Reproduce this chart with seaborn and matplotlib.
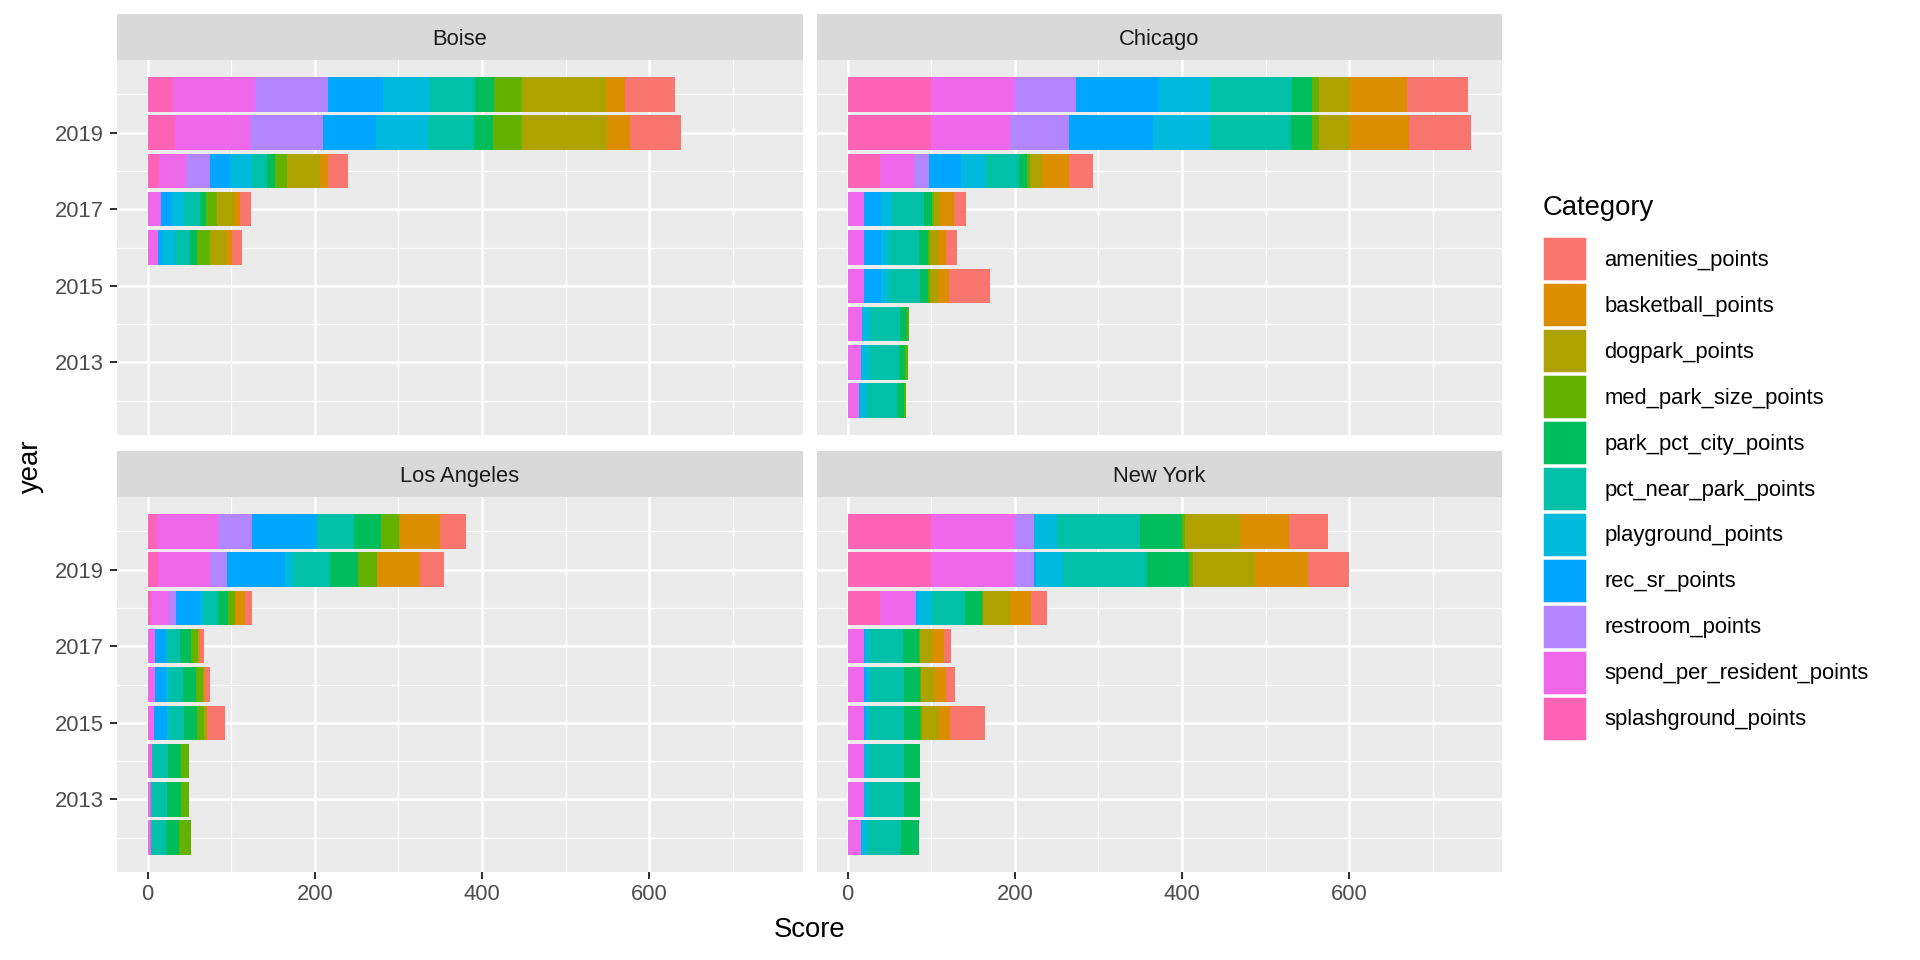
import numpy as np
import pandas as pd
import matplotlib
matplotlib.use("Agg")
import matplotlib.pyplot as plt
import seaborn as sns
from matplotlib.patches import Patch
from matplotlib.ticker import FixedLocator

categories = ["amenities_points", "basketball_points", "dogpark_points",
              "med_park_size_points", "park_pct_city_points", "pct_near_park_points",
              "playground_points", "rec_sr_points", "restroom_points",
              "spend_per_resident_points", "splashground_points"]
palette = ["#F8766D", "#DB8E00", "#AEA200", "#64B200", "#00BD5C", "#00C1A7",
           "#00BADE", "#00A6FF", "#B385FF", "#EF67EB", "#FF63B6"]

cities = ["Boise", "Chicago", "Los Angeles", "New York"]
years_full = [2012, 2013, 2014, 2015, 2016, 2017, 2018, 2019, 2020]
years_boise = [2016, 2017, 2018, 2019, 2020]

# columns follow `categories`
boise_scores = [
    [12, 7, 20, 15, 8, 18, 16, 5, 0, 12, 0],
    [13, 8, 20, 13, 8, 19, 14, 13, 0, 16, 0],
    [24, 10, 39, 15, 9, 18, 26, 25, 28, 32, 14],
    [61, 28, 101, 35, 23, 55, 62, 63, 88, 89, 33],
    [60, 23, 100, 34, 23, 54, 55, 66, 88, 98, 30],
]
chicago_scores = [
    [0, 0, 0, 3, 8, 36, 10, 0, 0, 13, 0],
    [0, 0, 0, 3, 8, 36, 9, 0, 0, 16, 0],
    [0, 0, 0, 2, 8, 36, 10, 0, 0, 17, 0],
    [49, 13, 9, 3, 10, 37, 9, 21, 0, 19, 0],
    [13, 10, 9, 3, 11, 36, 9, 21, 0, 19, 0],
    [14, 16, 8, 2, 10, 38, 13, 21, 0, 19, 0],
    [29, 32, 15, 4, 9, 41, 28, 39, 18, 40, 39],
    [74, 72, 36, 9, 25, 97, 68, 100, 71, 94, 100],
    [73, 69, 36, 8, 24, 99, 61, 99, 73, 100, 100],
]
la_scores = [
    [0, 0, 0, 14, 16, 18, 0, 0, 0, 4, 0],
    [0, 0, 0, 10, 17, 19, 0, 0, 0, 4, 0],
    [0, 0, 0, 9, 16, 19, 0, 0, 0, 5, 0],
    [22, 0, 4, 8, 16, 18, 2, 16, 0, 7, 0],
    [5, 2, 1, 8, 16, 16, 4, 13, 0, 9, 0],
    [5, 2, 0, 8, 13, 16, 1, 13, 0, 9, 0],
    [9, 11, 0, 9, 12, 17, 5, 28, 8, 22, 4],
    [28, 52, 0, 23, 33, 44, 10, 69, 20, 63, 12],
    [31, 48, 1, 22, 32, 44, 1, 77, 41, 73, 11],
]
ny_scores = [
    [0, 0, 0, 0, 21, 40, 8, 0, 0, 16, 0],
    [0, 0, 0, 1, 19, 41, 7, 0, 0, 19, 0],
    [0, 0, 0, 1, 19, 41, 7, 0, 0, 19, 0],
    [42, 13, 20, 3, 19, 41, 4, 3, 0, 19, 0],
    [10, 13, 17, 1, 20, 40, 5, 3, 0, 19, 0],
    [8, 14, 15, 1, 19, 40, 5, 2, 0, 19, 0],
    [19, 25, 32, 1, 21, 39, 17, 2, 3, 40, 39],
    [49, 64, 74, 5, 50, 100, 33, 2, 23, 100, 100],
    [46, 59, 66, 3, 50, 100, 27, 0, 23, 100, 100],
]

x_ticks = [0, 200, 400, 600]
y_ticks = [2013, 2015, 2017, 2019]

rows = []
for city, yrs, tbl in [("Boise", years_boise, boise_scores),
                       ("Chicago", years_full, chicago_scores),
                       ("Los Angeles", years_full, la_scores),
                       ("New York", years_full, ny_scores)]:
    for yr, vals in zip(yrs, tbl):
        for cat, v in zip(categories, vals):
            rows.append({"city": city, "year": yr, "Category": cat, "Score": v})
df = pd.DataFrame(rows)

sns.set_theme(style="darkgrid")
plt.rcParams["font.family"] = ["Liberation Sans", "DejaVu Sans"]

W, H, DPI = 1920, 960, 180
fig = plt.figure(figsize=(W / DPI, H / DPI), dpi=DPI)
fig.patch.set_facecolor("white")

panel_w = 686
col_x = [116.5, 816.5]
row_top = [60, 497]
panel_h = 375
strip_h = 46

def fx(px):
    return px / W

def fy(py):
    return 1 - py / H

for i, city in enumerate(cities):
    r, c = divmod(i, 2)
    x0 = col_x[c]
    top = row_top[r]
    ax = fig.add_axes([fx(x0), fy(top + panel_h), panel_w / W, panel_h / H])
    ax.set_facecolor("#EBEBEB")
    sub = df[df["city"] == city]
    sns.histplot(data=sub, y="year", weights="Score", hue="Category",
                 hue_order=categories, palette=palette, multiple="stack",
                 discrete=True, shrink=0.9, alpha=1, linewidth=0,
                 edgecolor="none", legend=False, ax=ax, zorder=3)
    ax.set_xlim(-37.3, 783.3)
    ax.set_ylim(2011.105, 2020.895)
    ax.xaxis.set_major_locator(FixedLocator(x_ticks))
    ax.xaxis.set_minor_locator(FixedLocator([100, 300, 500, 700]))
    ax.yaxis.set_major_locator(FixedLocator(y_ticks))
    ax.yaxis.set_minor_locator(FixedLocator([2012, 2014, 2016, 2018, 2020]))
    ax.grid(which="major", color="white", linewidth=1.0, zorder=1)
    ax.grid(which="minor", color="white", linewidth=0.5, zorder=1)
    ax.set_axisbelow(True)
    for s in ax.spines.values():
        s.set_visible(False)
    ax.set_xlabel("")
    ax.set_ylabel("")
    ax.tick_params(which="minor", length=0)
    ax.tick_params(which="major", length=2.75, width=0.8, color="#333333",
                   labelsize=8.8, labelcolor="#4D4D4D", pad=2.2)
    ax.tick_params(axis="x", bottom=(r == 1), labelbottom=(r == 1))
    ax.tick_params(axis="y", left=(c == 0), labelleft=(c == 0))
    ax.set_xticklabels([str(t) for t in x_ticks] if r == 1 else [])
    ax.set_yticklabels([str(t) for t in y_ticks] if c == 0 else [])

    sax = fig.add_axes([fx(x0), fy(top), panel_w / W, strip_h / H])
    sax.set_facecolor("#D9D9D9")
    sax.set_xticks([])
    sax.set_yticks([])
    for s in sax.spines.values():
        s.set_visible(False)
    sax.text(0.5, 0.45, city, ha="center", va="center", fontsize=8.8,
             color="#1A1A1A", transform=sax.transAxes)

fig.text(fx((116.5 + 1502.5) / 2), fy(930), "Score", ha="center", va="center",
         fontsize=11, color="black")
fig.text(fx(31), fy((60 + 872) / 2), "year", ha="center", va="center",
         rotation=90, fontsize=11, color="black")

fig.text(fx(1543), fy(208), "Category", ha="left", va="center",
         fontsize=11, color="black")
handles = [Patch(facecolor=col, edgecolor="white", linewidth=0.6) for col in palette]
leg = fig.legend(handles, categories, loc="upper left",
                 bbox_to_anchor=(fx(1543), fy(237)), frameon=False,
                 fontsize=8.8, handlelength=2.0, handleheight=2.7,
                 labelspacing=0.09, handletextpad=0.8, borderpad=0,
                 borderaxespad=0)
for t in leg.get_texts():
    t.set_color("black")

fig.savefig("out.png", dpi=DPI, facecolor="white")
